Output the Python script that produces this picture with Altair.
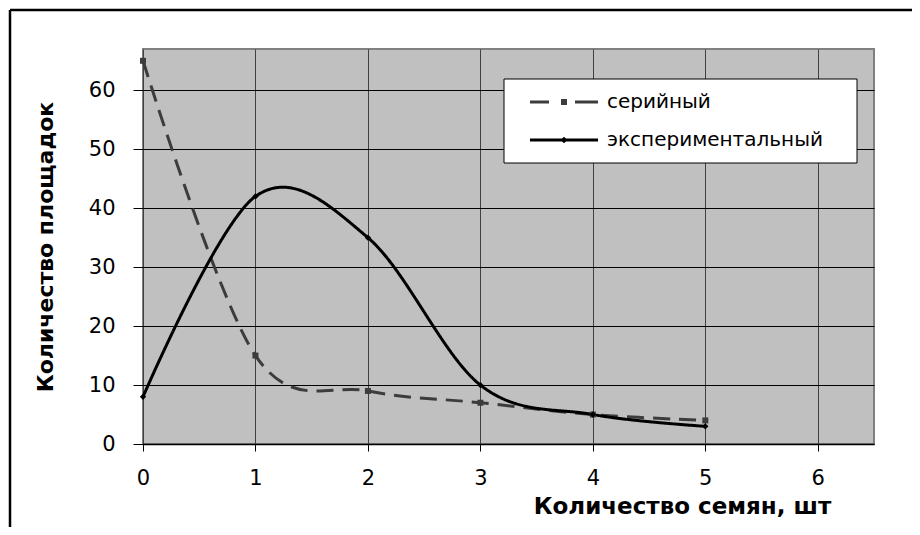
import altair as alt
import pandas as pd

x_vals = [0, 1, 2, 3, 4, 5]
serial = [65, 15, 9, 7, 5, 4]
experimental = [8, 42, 35, 10, 5, 3]
series_names = ["серийный", "экспериментальный"]
x_ticks = [0, 1, 2, 3, 4, 5, 6]
y_ticks = [0, 10, 20, 30, 40, 50, 60]

df = pd.DataFrame({
    "x": x_vals * 2,
    "y": serial + experimental,
    "series": [series_names[0]] * len(x_vals) + [series_names[1]] * len(x_vals),
})

FONT = "DejaVu Sans"
colors = ["#3c3c3c", "#000000"]

xenc = alt.X("x:Q", scale=alt.Scale(domain=[0, 6.5], nice=False, zero=False),
             axis=alt.Axis(values=x_ticks, format="d", grid=True, gridColor="#404040", gridWidth=1,
                           tickColor="#000", tickSize=7, domain=True, domainColor="#000", domainWidth=1.5,
                           labelFont=FONT, labelFontSize=21, labelColor="#000", labelPadding=16,
                           labelFlush=False,
                           title="Количество семян, шт", titleFont=FONT, titleFontSize=23,
                           titleFontWeight="bold", titleColor="#000", titleX=539, titleY=62,
                           titleAlign="center", titleBaseline="middle"))
yenc = alt.Y("y:Q", scale=alt.Scale(domain=[0, 67], nice=False),
             axis=alt.Axis(values=y_ticks, grid=True, gridColor="#000", gridWidth=1,
                           tickColor="#000", tickSize=10, domain=False,
                           labelFont=FONT, labelFontSize=21, labelColor="#000", labelPadding=18,
                           labelFlush=False,
                           title="Количество площадок", titleFont=FONT, titleFontSize=22,
                           titleFontWeight="bold", titleColor="#000", titleX=-98, titleY=197.5,
                           titleAngle=-90, titleAlign="center", titleBaseline="middle"))

color_scale = alt.Scale(domain=series_names, range=colors)

lines = alt.Chart(df).mark_line(interpolate="cardinal", strokeWidth=3).encode(
    x=xenc, y=yenc,
    stroke=alt.Stroke("series:N", scale=color_scale, legend=None),
    strokeDash=alt.StrokeDash("series:N", scale=alt.Scale(domain=series_names, range=[[17, 9], [1, 0]]), legend=None),
)

points_serial = alt.Chart(df).transform_filter(
    alt.datum.series == series_names[0]
).mark_point(filled=True, size=36, opacity=1, shape="square", color=colors[0]).encode(x="x:Q", y="y:Q")

points_exp = alt.Chart(df).transform_filter(
    alt.datum.series == series_names[1]
).mark_point(filled=True, size=40, opacity=1, shape="diamond", color=colors[1]).encode(x="x:Q", y="y:Q")

# decorations: outer frame and legend (positions in pixels relative to the plot area)
one = alt.Data(values=[{"k": 1}])
frame_left = alt.Chart(one).mark_rule(color="#000", strokeWidth=2.5).encode(
    x=alt.value(-133), y=alt.value(-39), y2=alt.value(520))
frame_top = alt.Chart(one).mark_rule(color="#000", strokeWidth=2.5).encode(
    x=alt.value(-133), x2=alt.value(800), y=alt.value(-39))

leg_box = alt.Chart(one).mark_rect(fill="#ffffff", stroke="#000", strokeWidth=1).encode(
    x=alt.value(361), x2=alt.value(714), y=alt.value(30), y2=alt.value(114))
leg_line1 = alt.Chart(one).mark_rule(color=colors[0], strokeWidth=3, strokeDash=[19, 26, 23, 10]).encode(
    x=alt.value(387), x2=alt.value(455), y=alt.value(53))
leg_pt1 = alt.Chart(one).mark_point(filled=True, size=36, shape="square", color=colors[0], opacity=1).encode(
    x=alt.value(421), y=alt.value(53))
leg_txt1 = alt.Chart(one).mark_text(align="left", baseline="middle", font=FONT, fontSize=20, color="#000").encode(
    x=alt.value(464), y=alt.value(53), text=alt.value(series_names[0]))
leg_line2 = alt.Chart(one).mark_rule(color=colors[1], strokeWidth=3).encode(
    x=alt.value(387), x2=alt.value(455), y=alt.value(91))
leg_pt2 = alt.Chart(one).mark_point(filled=True, size=45, shape="diamond", color=colors[1], opacity=1).encode(
    x=alt.value(421), y=alt.value(91))
leg_txt2 = alt.Chart(one).mark_text(align="left", baseline="middle", font=FONT, fontSize=20, color="#000").encode(
    x=alt.value(464), y=alt.value(91), text=alt.value(series_names[1]))

chart = alt.layer(
    frame_left, frame_top, lines, points_serial, points_exp,
    leg_box, leg_line1, leg_pt1, leg_txt1, leg_line2, leg_pt2, leg_txt2,
).properties(
    width=731, height=395,
    autosize=alt.AutoSizeParams(type="none"),
    padding={"left": 135, "top": 41, "right": 38, "bottom": 83},
    background="white",
).configure_view(
    fill="#c0c0c0", stroke="#808080", strokeWidth=2,
)

chart.save("out.html", embed_options={"renderer": "svg", "actions": False})
